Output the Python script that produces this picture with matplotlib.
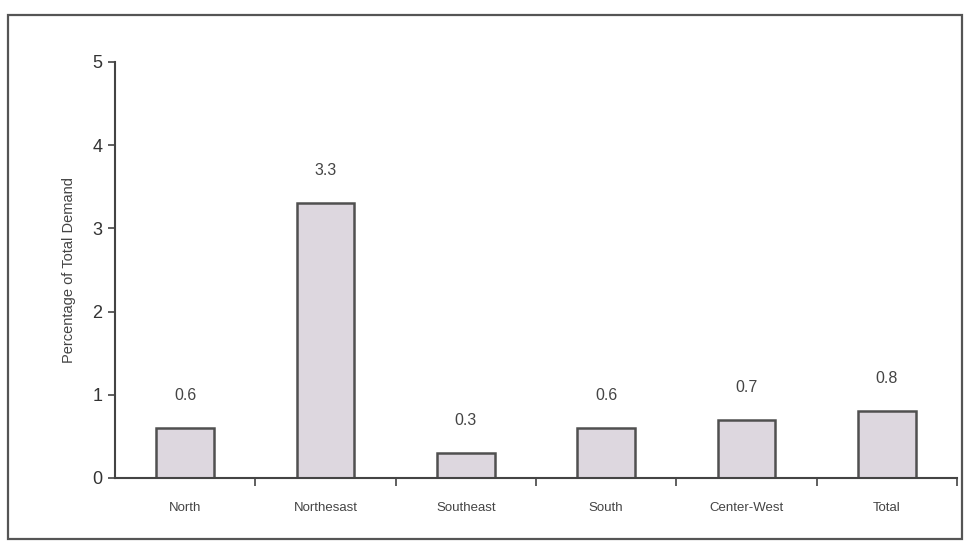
import matplotlib.pyplot as plt
from matplotlib.patches import Rectangle
import numpy as np

plt.rcParams['font.family'] = ['Liberation Sans', 'DejaVu Sans']

# data
regions = ['North', 'Northesast', 'Southeast', 'South', 'Center-West', 'Total']
values = [0.6, 3.3, 0.3, 0.6, 0.7, 0.8]
value_labels = ['0.6', '3.3', '0.3', '0.6', '0.7', '0.8']
yticks = [0, 1, 2, 3, 4, 5]

fig = plt.figure(figsize=(9.67, 5.42), dpi=100)

# outer frame of the scanned figure
fig.patches.append(Rectangle((8 / 967, 3 / 542), 954 / 967, 524 / 542,
                             transform=fig.transFigure, fill=False,
                             edgecolor='#555555', linewidth=1.6))

ax = fig.add_axes([115 / 967, 1 - 478 / 542, 842 / 967, 416 / 542])

x = np.arange(len(regions))
ax.bar(x, values, width=0.41, color='#ddd7df',
       edgecolor='#505050', linewidth=1.8, zorder=2)

for xi, v, lab in zip(x, values, value_labels):
    ax.text(xi, v + 0.3, lab, ha='center', va='bottom',
            fontsize=11.5, color='#444444')

ax.set_xlim(-0.5, len(regions) - 0.5)
ax.set_ylim(0, 5)

ax.set_yticks(yticks)
ax.set_yticklabels([str(t) for t in yticks], fontsize=13, color='#333333')
ax.set_xticks(x + 0.5)
ax.set_xticklabels([])
ax.set_xticks(x, minor=True)
ax.set_xticklabels(regions, minor=True, fontsize=9.5, color='#444444')
ax.tick_params(axis='x', which='minor', length=0, pad=17)
ax.tick_params(axis='x', which='major', length=6, width=1.2,
               color='#444444')
ax.tick_params(axis='y', length=5, width=1.2, color='#444444', pad=4)

for s in ['top', 'right']:
    ax.spines[s].set_visible(False)
for s in ['left', 'bottom']:
    ax.spines[s].set_color('#444444')
    ax.spines[s].set_linewidth(1.5)

ax.set_ylabel('Percentage of Total Demand', fontsize=10.5, color='#444444',
              labelpad=12)

plt.savefig('out.png', dpi=100)
